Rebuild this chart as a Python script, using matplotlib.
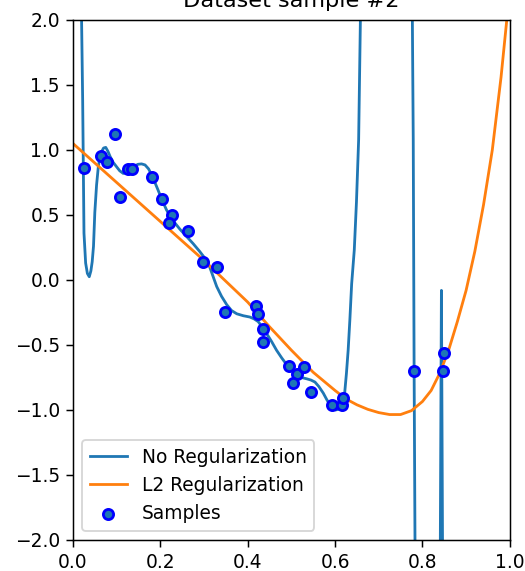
import matplotlib
matplotlib.use("Agg")
import matplotlib.pyplot as plt

# Sample points
x_samples = [0.025, 0.064, 0.079, 0.096, 0.108, 0.127, 0.134, 0.182, 0.204, 0.226,
             0.220, 0.264, 0.298, 0.330, 0.348, 0.420, 0.424, 0.434, 0.434, 0.494,
             0.512, 0.529, 0.503, 0.546, 0.594, 0.616, 0.619, 0.781, 0.847, 0.850]
y_samples = [0.86, 0.95, 0.91, 1.12, 0.64, 0.85, 0.85, 0.79, 0.62, 0.50,
             0.44, 0.38, 0.14, 0.10, -0.25, -0.20, -0.26, -0.38, -0.48, -0.66,
             -0.72, -0.67, -0.79, -0.86, -0.96, -0.96, -0.905, -0.70, -0.70, -0.56]

# No regularization fit
noreg_x = [0.000, 0.012, 0.0197, 0.0222, 0.0252, 0.029, 0.033, 0.0373, 0.041, 0.044,
           0.047, 0.050, 0.054, 0.058, 0.062, 0.066, 0.070, 0.075, 0.080, 0.085,
           0.092, 0.100, 0.107, 0.115, 0.122, 0.130, 0.140, 0.149, 0.157, 0.165,
           0.173, 0.180, 0.187, 0.195, 0.204, 0.214, 0.224, 0.233, 0.245, 0.260,
           0.275, 0.290, 0.306, 0.313, 0.321, 0.329, 0.340, 0.352, 0.363, 0.375,
           0.390, 0.405, 0.415, 0.424, 0.433, 0.443, 0.455, 0.466, 0.478, 0.489,
           0.500, 0.512, 0.523, 0.535, 0.545, 0.554, 0.563, 0.573, 0.581, 0.588,
           0.595, 0.601, 0.608, 0.615, 0.619, 0.622, 0.626, 0.630, 0.634, 0.638,
           0.644, 0.649, 0.654, 0.658, 0.665, 0.720, 0.770, 0.777, 0.779, 0.781,
           0.783, 0.790, 0.815, 0.835, 0.841, 0.8435, 0.846, 0.852, 0.900, 1.000]
noreg_y = [40.0, 6.0, 2.0, 1.38, 0.36, 0.13, 0.05, 0.025, 0.07, 0.14,
           0.26, 0.52, 0.73, 0.87, 0.95, 0.99, 1.015, 1.02, 0.99, 0.95,
           0.905, 0.87, 0.84, 0.82, 0.825, 0.85, 0.875, 0.89, 0.893, 0.885,
           0.855, 0.81, 0.755, 0.69, 0.615, 0.54, 0.48, 0.44, 0.39, 0.335,
           0.28, 0.22, 0.15, 0.10, 0.025, -0.05, -0.125, -0.19, -0.235, -0.26,
           -0.275, -0.285, -0.30, -0.32, -0.36, -0.41, -0.475, -0.54, -0.60, -0.65,
           -0.695, -0.73, -0.75, -0.76, -0.77, -0.785, -0.82, -0.87, -0.92, -0.96,
           -0.99, -1.00, -0.995, -0.975, -0.93, -0.87, -0.72, -0.54, -0.30, -0.03,
           0.23, 0.60, 1.08, 2.0, 6.0, 60.0, 6.0, 2.0, 1.08, -0.70,
           -2.0, -8.0, -40.0, -8.0, -2.0, -0.08, -2.0, -8.0, -60.0, -400.0]

# L2 regularization fit
l2_x = [0.000, 0.050, 0.100, 0.150, 0.200, 0.250, 0.300, 0.350, 0.400, 0.450,
        0.500, 0.550, 0.600, 0.625, 0.650, 0.675, 0.700, 0.725, 0.750, 0.775,
        0.800, 0.820, 0.840, 0.860, 0.880, 0.900, 0.920, 0.940, 0.960, 0.980,
        1.000]
l2_y = [1.05, 0.90, 0.75, 0.60, 0.45, 0.30, 0.15, -0.01, -0.17, -0.36,
        -0.54, -0.71, -0.85, -0.915, -0.96, -0.995, -1.02, -1.035, -1.035, -1.005,
        -0.935, -0.85, -0.715, -0.54, -0.32, -0.08, 0.22, 0.58, 1.00, 1.56,
        2.23]

DPI = 134
fig = plt.figure(figsize=(525 / DPI, 571 / DPI), dpi=DPI)
ax = fig.add_axes([0.139, 0.0543, 0.832, 0.9107])

ax.plot(noreg_x, noreg_y, color="#1f77b4", lw=1.5, label="No Regularization")
ax.plot(l2_x, l2_y, color="#ff7f0e", lw=1.5, label="L2 Regularization")
ax.scatter(x_samples, y_samples, color="#1f77b4", edgecolors="b", s=30,
           linewidths=1.5, zorder=3, label="Samples")

ax.set_xlim(0, 1)
ax.set_ylim(-2, 2)
ax.set_title("Dataset sample #2", pad=7)
ax.legend(loc="lower left")

fig.savefig("out.png", dpi=DPI)
